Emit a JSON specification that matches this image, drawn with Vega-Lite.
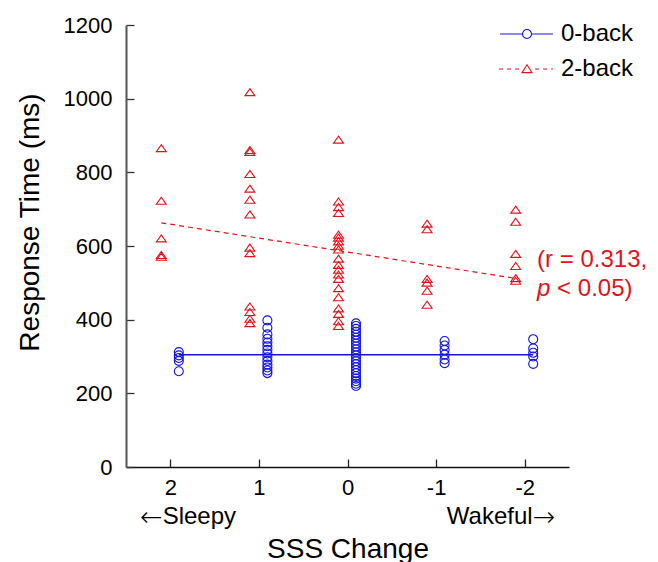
{
  "$schema": "https://vega.github.io/schema/vega-lite/v6.json",
  "width": 443,
  "height": 442,
  "autosize": {"type": "none"},
  "padding": {"left": 126, "top": 25, "right": 89, "bottom": 95},
  "background": "white",
  "config": {
    "view": {"stroke": null},
    "font": "Liberation Sans",
    "axis": {"grid": false}
  },
  "datasets": {
    "points": [
      {"sss": 2, "task": "2-back", "rt": 865}, {"sss": 2, "task": "2-back", "rt": 722}, {"sss": 2, "task": "2-back", "rt": 620}, {"sss": 2, "task": "2-back", "rt": 575}, {"sss": 2, "task": "2-back", "rt": 570},
      {"sss": 1, "task": "2-back", "rt": 1017}, {"sss": 1, "task": "2-back", "rt": 860}, {"sss": 1, "task": "2-back", "rt": 855}, {"sss": 1, "task": "2-back", "rt": 795}, {"sss": 1, "task": "2-back", "rt": 755}, {"sss": 1, "task": "2-back", "rt": 725}, {"sss": 1, "task": "2-back", "rt": 685}, {"sss": 1, "task": "2-back", "rt": 595}, {"sss": 1, "task": "2-back", "rt": 580}, {"sss": 1, "task": "2-back", "rt": 435}, {"sss": 1, "task": "2-back", "rt": 420}, {"sss": 1, "task": "2-back", "rt": 402}, {"sss": 1, "task": "2-back", "rt": 390},
      {"sss": 0, "task": "2-back", "rt": 888}, {"sss": 0, "task": "2-back", "rt": 720}, {"sss": 0, "task": "2-back", "rt": 705}, {"sss": 0, "task": "2-back", "rt": 689}, {"sss": 0, "task": "2-back", "rt": 630}, {"sss": 0, "task": "2-back", "rt": 622}, {"sss": 0, "task": "2-back", "rt": 612}, {"sss": 0, "task": "2-back", "rt": 600}, {"sss": 0, "task": "2-back", "rt": 590}, {"sss": 0, "task": "2-back", "rt": 565}, {"sss": 0, "task": "2-back", "rt": 548}, {"sss": 0, "task": "2-back", "rt": 535}, {"sss": 0, "task": "2-back", "rt": 522}, {"sss": 0, "task": "2-back", "rt": 510}, {"sss": 0, "task": "2-back", "rt": 485}, {"sss": 0, "task": "2-back", "rt": 460}, {"sss": 0, "task": "2-back", "rt": 430}, {"sss": 0, "task": "2-back", "rt": 415}, {"sss": 0, "task": "2-back", "rt": 395}, {"sss": 0, "task": "2-back", "rt": 382},
      {"sss": -1, "task": "2-back", "rt": 660}, {"sss": -1, "task": "2-back", "rt": 645}, {"sss": -1, "task": "2-back", "rt": 510}, {"sss": -1, "task": "2-back", "rt": 500}, {"sss": -1, "task": "2-back", "rt": 478}, {"sss": -1, "task": "2-back", "rt": 440},
      {"sss": -2, "task": "2-back", "rt": 698}, {"sss": -2, "task": "2-back", "rt": 665}, {"sss": -2, "task": "2-back", "rt": 578}, {"sss": -2, "task": "2-back", "rt": 545}, {"sss": -2, "task": "2-back", "rt": 512}, {"sss": -2, "task": "2-back", "rt": 505},
      {"sss": 2, "task": "0-back", "rt": 312}, {"sss": 2, "task": "0-back", "rt": 303}, {"sss": 2, "task": "0-back", "rt": 296}, {"sss": 2, "task": "0-back", "rt": 288}, {"sss": 2, "task": "0-back", "rt": 260},
      {"sss": 1, "task": "0-back", "rt": 398}, {"sss": 1, "task": "0-back", "rt": 378}, {"sss": 1, "task": "0-back", "rt": 360}, {"sss": 1, "task": "0-back", "rt": 348}, {"sss": 1, "task": "0-back", "rt": 338}, {"sss": 1, "task": "0-back", "rt": 328}, {"sss": 1, "task": "0-back", "rt": 318}, {"sss": 1, "task": "0-back", "rt": 308}, {"sss": 1, "task": "0-back", "rt": 298}, {"sss": 1, "task": "0-back", "rt": 288}, {"sss": 1, "task": "0-back", "rt": 278}, {"sss": 1, "task": "0-back", "rt": 270}, {"sss": 1, "task": "0-back", "rt": 262}, {"sss": 1, "task": "0-back", "rt": 255},
      {"sss": 0, "task": "0-back", "rt": 390}, {"sss": 0, "task": "0-back", "rt": 383}, {"sss": 0, "task": "0-back", "rt": 375}, {"sss": 0, "task": "0-back", "rt": 367}, {"sss": 0, "task": "0-back", "rt": 359}, {"sss": 0, "task": "0-back", "rt": 351}, {"sss": 0, "task": "0-back", "rt": 343}, {"sss": 0, "task": "0-back", "rt": 335}, {"sss": 0, "task": "0-back", "rt": 327}, {"sss": 0, "task": "0-back", "rt": 319}, {"sss": 0, "task": "0-back", "rt": 311}, {"sss": 0, "task": "0-back", "rt": 303}, {"sss": 0, "task": "0-back", "rt": 295}, {"sss": 0, "task": "0-back", "rt": 287}, {"sss": 0, "task": "0-back", "rt": 279}, {"sss": 0, "task": "0-back", "rt": 271}, {"sss": 0, "task": "0-back", "rt": 263}, {"sss": 0, "task": "0-back", "rt": 255}, {"sss": 0, "task": "0-back", "rt": 247}, {"sss": 0, "task": "0-back", "rt": 240}, {"sss": 0, "task": "0-back", "rt": 233}, {"sss": 0, "task": "0-back", "rt": 226}, {"sss": 0, "task": "0-back", "rt": 220},
      {"sss": -1, "task": "0-back", "rt": 342}, {"sss": -1, "task": "0-back", "rt": 330}, {"sss": -1, "task": "0-back", "rt": 318}, {"sss": -1, "task": "0-back", "rt": 305}, {"sss": -1, "task": "0-back", "rt": 292}, {"sss": -1, "task": "0-back", "rt": 282},
      {"sss": -2, "task": "0-back", "rt": 347}, {"sss": -2, "task": "0-back", "rt": 322}, {"sss": -2, "task": "0-back", "rt": 310}, {"sss": -2, "task": "0-back", "rt": 300}, {"sss": -2, "task": "0-back", "rt": 280}
    ],
    "fit": [
      {"sss": 2, "task": "0-back", "rt": 305}, {"sss": -2, "task": "0-back", "rt": 305},
      {"sss": 2, "task": "2-back", "rt": 663}, {"sss": -2, "task": "2-back", "rt": 512}
    ]
  },
  "layer": [
    {
      "data": {"name": "fit"},
      "transform": [{"filter": "datum.task === '0-back'"}],
      "mark": {"type": "line", "color": "#1414e0", "strokeWidth": 1.5, "xOffset": 8.5},
      "encoding": {
        "x": {"field": "sss", "type": "quantitative", "scale": {"domain": [-2.5, 2.5], "reverse": true, "nice": false, "zero": false},
          "axis": {"values": [2, 1, 0, -1, -2], "labelExpr": "datum.value + ''", "title": "SSS Change", "titleFontSize": 28, "titleFontWeight": "normal", "titleColor": "black", "titleY": 90, "titleBaseline": "alphabetic", "labelFontSize": 22, "labelColor": "black", "labelPadding": 18, "tickSize": -8, "tickColor": "#222", "tickWidth": 1.3, "domainColor": "#111", "domainWidth": 1.5, "labelFlush": false}},
        "y": {"field": "rt", "type": "quantitative", "scale": {"domain": [0, 1200], "nice": false},
          "axis": {"values": [0, 200, 400, 600, 800, 1000, 1200], "labelExpr": "datum.value + ''", "title": "Response Time (ms)", "titleFontSize": 28, "titleFontWeight": "normal", "titleColor": "black", "titleX": -96, "titleY": 197, "titleBaseline": "middle", "labelFontSize": 22, "labelColor": "black", "labelPadding": 22, "tickSize": -8, "tickColor": "#333", "tickWidth": 1.3, "domainColor": "#555", "domainWidth": 2, "labelFlush": false}}
      }
    },
    {
      "data": {"name": "fit"},
      "transform": [{"filter": "datum.task === '2-back'"}],
      "mark": {"type": "line", "color": "#e3121b", "strokeWidth": 1.2, "strokeDash": [5, 4], "xOffset": -9},
      "encoding": {
        "x": {"field": "sss", "type": "quantitative"},
        "y": {"field": "rt", "type": "quantitative"}
      }
    },
    {
      "data": {"name": "fit"},
      "mark": {"type": "point", "filled": false, "opacity": 0, "strokeWidth": 1.1},
      "encoding": {
        "x": {"field": "sss", "type": "quantitative"},
        "y": {"field": "rt", "type": "quantitative"},
        "color": {"field": "task", "type": "nominal", "scale": {"domain": ["0-back", "2-back"], "range": ["#1414e0", "#e3121b"]},
          "legend": {"title": null, "orient": "none", "legendX": 389, "legendY": -3, "symbolSize": 400, "symbolStrokeWidth": 1.1, "symbolOpacity": 1, "symbolFillColor": "transparent", "labelFontSize": 24, "labelFont": "Liberation Sans", "labelOffset": 22, "rowPadding": 11,
            "encode": {
              "labels": {"update": {"fill": {"signal": "datum.value === '0-back' ? '#1414e0' : '#e3121b'"}}}
            }}},
        "shape": {"field": "task", "type": "nominal", "scale": {"domain": ["0-back", "2-back"], "range": ["M-2.7,0L-0.45,0M0.45,0L2.6,0M0.45,0A0.45,0.45 0 1 1 -0.45,0A0.45,0.45 0 1 1 0.45,0", "M-2.8,0L-2.4,0M-2.0,0L-1.6,0M-1.2,0L-0.8,0M0.8,0L1.2,0M1.6,0L2.0,0M2.4,0L2.6,0M0,-0.42L0.5,0.36L-0.5,0.36Z"]}}
      }
    },
    {
      "data": {"name": "points"},
      "transform": [{"filter": "datum.task === '0-back'"}],
      "mark": {"type": "point", "shape": "circle", "filled": false, "color": "#1414e0", "xOffset": 8.5, "strokeWidth": 1.1, "size": 81, "opacity": 1},
      "encoding": {
        "x": {"field": "sss", "type": "quantitative"},
        "y": {"field": "rt", "type": "quantitative"}
      }
    },
    {
      "data": {"name": "points"},
      "transform": [{"filter": "datum.task === '2-back'"}],
      "mark": {"type": "point", "shape": "M0,-0.72L0.95,0.62L-0.95,0.62Z", "filled": false, "color": "#e3121b", "xOffset": -9, "strokeWidth": 1.1, "size": 110, "opacity": 1},
      "encoding": {
        "x": {"field": "sss", "type": "quantitative"},
        "y": {"field": "rt", "type": "quantitative"}
      }
    },
    {
      "data": {"values": [{"sss": -2.14, "rt": 562, "label": "(r = 0.313,"}]},
      "mark": {"type": "text", "fontSize": 24, "align": "left", "baseline": "middle", "color": "#e3121b"},
      "encoding": {"x": {"field": "sss", "type": "quantitative"}, "y": {"field": "rt", "type": "quantitative"}, "text": {"field": "label"}}
    },
    {
      "data": {"values": [{"sss": -2.14, "rt": 483, "label": "p"}]},
      "mark": {"type": "text", "fontSize": 24, "fontStyle": "italic", "align": "left", "baseline": "middle", "color": "#e3121b"},
      "encoding": {"x": {"field": "sss", "type": "quantitative"}, "y": {"field": "rt", "type": "quantitative"}, "text": {"field": "label"}}
    },
    {
      "data": {"values": [{"sss": -2.14, "rt": 483, "label": "< 0.05)"}]},
      "mark": {"type": "text", "fontSize": 24, "align": "left", "baseline": "middle", "color": "#e3121b", "dx": 20},
      "encoding": {"x": {"field": "sss", "type": "quantitative"}, "y": {"field": "rt", "type": "quantitative"}, "text": {"field": "label"}}
    },
    {
      "data": {"values": [{"sss": 2.086, "rt": -136, "label": "←"}, {"sss": -2.09, "rt": -136, "label": "→"}]},
      "mark": {"type": "text", "font": "DejaVu Sans", "fontSize": 27, "fontWeight": 200, "align": {"expr": "datum.label === '←' ? 'right' : 'left'"}, "baseline": "middle", "color": "black", "dy": 1},
      "encoding": {"x": {"field": "sss", "type": "quantitative"}, "y": {"field": "rt", "type": "quantitative"}, "text": {"field": "label"}}
    },
    {
      "data": {"values": [{"sss": 2.086, "rt": -136, "label": "Sleepy"}]},
      "mark": {"type": "text", "fontSize": 24, "align": "left", "baseline": "middle", "color": "black"},
      "encoding": {"x": {"field": "sss", "type": "quantitative"}, "y": {"field": "rt", "type": "quantitative"}, "text": {"field": "label"}}
    },
    {
      "data": {"values": [{"sss": -2.09, "rt": -136, "label": "Wakeful"}]},
      "mark": {"type": "text", "fontSize": 24, "align": "right", "baseline": "middle", "color": "black"},
      "encoding": {"x": {"field": "sss", "type": "quantitative"}, "y": {"field": "rt", "type": "quantitative"}, "text": {"field": "label"}}
    }
  ]
}
